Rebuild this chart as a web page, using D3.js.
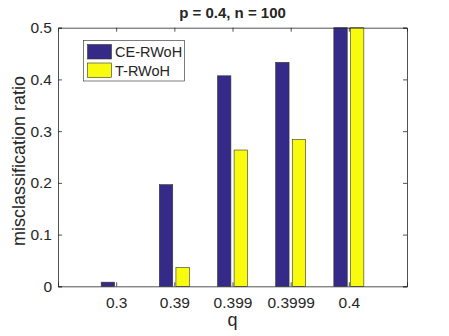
<!DOCTYPE html>
<html>
<head>
<meta charset="utf-8">
<script src="https://cdn.jsdelivr.net/npm/d3@7"></script>
<style>
  body { margin: 0; background: #fff; }
  svg text { font-family: "Liberation Sans", Arial, sans-serif; fill: #262626; }
</style>
</head>
<body>
<svg id="chart" width="449" height="336"></svg>
<script>
// data
const categories = ["0.3", "0.39", "0.399", "0.3999", "0.4"];
const seriesNames = ["CE-RWoH", "T-RWoH"];
const ceValues = [0.008, 0.1965, 0.407, 0.433, 0.5];
const tValues = [0, 0.0365, 0.2635, 0.284, 0.5];
const yTicks = [0, 0.1, 0.2, 0.3, 0.4, 0.5];
const colors = ["#352a87", "#f9fb0e"];

const margin = { left: 58, right: 42, top: 27.7, bottom: 49.7 };
const width = 449, height = 336;
const svg = d3.select("#chart");

const x = d3.scaleLinear().domain([0, categories.length + 1]).range([margin.left, width - margin.right]);
const y = d3.scaleLinear().domain([0, 0.5]).range([height - margin.bottom, margin.top]);

const barW = 13.4;
const offset = 8.3;
const series = [ceValues, tValues];

// bars
series.forEach((vals, s) => {
    svg.append("g")
        .selectAll("rect")
        .data(vals)
        .join("rect")
        .attr("x", (d, i) => x(i + 1) + (s === 0 ? -offset : offset) - barW / 2)
        .attr("y", d => y(d))
        .attr("width", barW)
        .attr("height", d => y(0) - y(d))
        .attr("fill", colors[s])
        .attr("stroke", "#333")
        .attr("stroke-width", 0.6)
        .attr("display", d => d > 0 ? null : "none");
});

// axes (box with inward ticks, like matlab)
const axisColor = "#262626";
const xAxis = d3.axisBottom(x).tickValues(d3.range(1, categories.length + 1))
    .tickFormat(d => categories[d - 1]).tickSize(-4).tickPadding(11);
const yAxis = d3.axisLeft(y).tickValues(yTicks).tickFormat(d3.format("")).tickSize(-4).tickPadding(6);

svg.append("g").attr("transform", `translate(0,${y(0)})`).call(xAxis);
svg.append("g").attr("transform", `translate(${x(0)},0)`).call(yAxis);
svg.append("g").attr("transform", `translate(0,${y(0.5)})`)
    .call(d3.axisTop(x).tickValues(d3.range(1, categories.length + 1)).tickFormat("").tickSize(-4));
svg.append("g").attr("transform", `translate(${x(categories.length + 1)},0)`)
    .call(d3.axisRight(y).tickValues(yTicks).tickFormat("").tickSize(-4));

svg.selectAll(".domain").attr("stroke", axisColor).attr("stroke-width", 0.8);
svg.selectAll(".tick line").attr("stroke", axisColor).attr("stroke-width", 0.8);
svg.selectAll(".tick text").style("font-size", "15.5px").attr("fill", "#262626");

// labels
svg.append("text")
    .attr("x", x(3)).attr("y", 18)
    .attr("text-anchor", "middle")
    .style("font-size", "15px").style("font-weight", "bold")
    .attr("fill", "#000")
    .text("p = 0.4, n = 100");

svg.append("text")
    .attr("x", x(3)).attr("y", 326)
    .attr("text-anchor", "middle")
    .style("font-size", "18px")
    .text("q");

svg.append("text")
    .attr("transform", `translate(25,161) rotate(-90)`)
    .attr("text-anchor", "middle")
    .style("font-size", "18px")
    .text("misclassification ratio");

// legend
const legend = svg.append("g");
legend.append("rect")
    .attr("x", 83.5).attr("y", 40.5).attr("width", 101).attr("height", 40.5)
    .attr("fill", "#fff").attr("stroke", "#262626").attr("stroke-width", 0.6);
seriesNames.forEach((name, i) => {
    legend.append("rect")
        .attr("x", 87.5).attr("y", 44.5 + i * 18.5).attr("width", 24).attr("height", 14.5)
        .attr("fill", colors[i]).attr("stroke", "#333").attr("stroke-width", 0.6);
    legend.append("text")
        .attr("x", 115).attr("y", 57.3 + i * 18.7)
        .style("font-size", "14.5px")
        .text(name);
});
</script>
</body>
</html>
